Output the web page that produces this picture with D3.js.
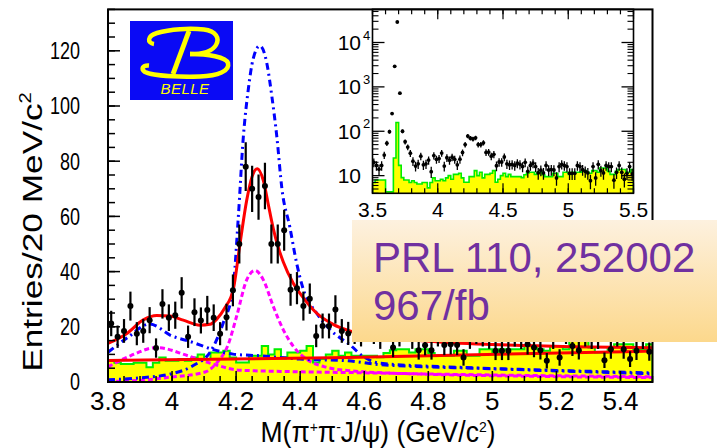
<!DOCTYPE html>
<html><head><meta charset="utf-8">
<script src="https://cdn.jsdelivr.net/npm/d3@7"></script>
<style>
body{margin:0;background:#fff}
svg{display:block}
text{font-family:"Liberation Sans",Arial,Helvetica,sans-serif}
</style>
</head><body>
<svg id="c" width="717" height="448"></svg>
<script>
// ---------------- DATA ----------------
const binStart = 3.8, binWidth = 0.02;
// Entries per 20 MeV bin, 3.80 - 5.50 GeV
const counts = [21.2,16.4,18.5,27.5,17.5,18.5,22.4,12.3,28.3,23.3,
  24.2,32.3,16.4,25.3,22.3,26.1,23.3,17.5,23.5,33.2,
  50,78,70,67,71,50,50,55,33.4,34,
  27.5,30.2,16.7,20.3,20.3,26.3,18.5,17.6,18,17,
  19,18,16,20,12.5,17,19,16,11.5,13.3,
  11.5,17,13.4,13.7,13.4,8.9,16,18,17,16,
  11.3,11.3,11.3,17,16,13.7,12.5,11.5,7.7,16,
  8.9,18,13,11.5,17,16,16,7.9,11.9,17,
  11.9,8.3,11.3,16,11];
// J/psi sideband histogram (yellow)
const sideband = [7.7,7,6.5,6.5,7,7,5.3,7,8.9,7.7,
  7.7,8.3,7.7,8.9,10,8.3,10.7,10.7,11.3,8.9,
  7.1,7.1,9.5,9.5,13,10,11.9,8.9,10.7,10.7,
  11.3,13,7.1,8.3,10,11.3,9.5,10.7,9.5,9.5,
  9.5,9.5,9,10.5,11.5,11.9,11.9,10.7,11.9,11.9,
  10.5,9.5,9.5,9.5,11.3,11.3,9.5,9.5,11.9,11.9,
  10.7,11.9,11.9,11.9,11.9,13,13,11.9,11.3,13,
  13,11.9,14.9,14.9,14.9,12.5,10.7,10.7,12.5,13.7,
  13.7,13.7,11.9,11.9,13.7];
// inset: extra bins 3.50 - 3.80 GeV (same 20 MeV binning)
const insetStart = 3.5;
const insetLowCounts = [20,17,14,17,29,54,98,250,2900,29000,720,100,58,44,32];
const insetLowSideband = [7,8,8,8,8,4.3,4.3,4.3,25,157,17,9,8,8,7];

// fit curves [mass, entries]
const fitTotal = [[3.80,14.0],[3.858,17.5],[3.91,22.5],[3.952,24.1],[3.994,23.9],[4.035,22.4],
  [4.087,20.6],[4.118,20.9],[4.139,22.7],[4.165,26.9],[4.191,33.5],[4.212,50],[4.233,65.8],
  [4.25,74.5],[4.266,77.3],[4.285,73],[4.30,64.6],[4.316,55.6],[4.331,49],[4.347,43.6],
  [4.378,35.9],[4.41,30.5],[4.451,25],[4.503,20.9],[4.555,18.5],[4.65,16.5],[4.8,14.8],
  [5.0,13.6],[5.25,12.8],[5.5,12.4]];
const fitBkg = [[3.8,7.8],[4.55,8.9],[5.5,11.2]];
const sol2Y4260 = [[3.80,0.8],[3.90,1.5],[4.00,3],[4.065,5.9],[4.12,11],[4.16,21.5],[4.19,33.5],
  [4.207,60],[4.222,88],[4.238,106],[4.253,117],[4.274,121.8],[4.295,116],[4.311,104],
  [4.327,89],[4.343,70],[4.368,56],[4.389,43],[4.41,33.5],[4.451,25],[4.493,19],[4.555,13.5],
  [4.60,9],[4.65,6.8],[4.9,5.3],[5.2,4.2],[5.5,3.3]];
const sol2Y4008 = [[3.80,10.8],[3.86,16],[3.93,21],[3.999,16.7],[4.061,14.5],[4.124,11.9],
  [4.19,10.1],[4.274,9.5],[4.399,8.3],[4.545,7.7],[4.65,6.3],[5.0,4.8],[5.5,3.0]];
const sol1Y4008 = [[3.80,5.5],[3.87,9.5],[3.952,12.5],[4.05,9.5],[4.134,6.3],[4.21,4.3],
  [4.40,3.7],[4.565,3.4],[4.8,2.9],[5.1,2.4],[5.5,1.9]];
const sol1Y4260 = [[3.80,0.2],[3.90,0.6],[3.983,1.6],[4.103,3.6],[4.14,7],[4.175,13.5],
  [4.202,24],[4.233,37],[4.259,40.4],[4.285,37],[4.316,27.4],[4.347,19],[4.378,13],[4.42,8.3],
  [4.483,5.3],[4.565,4],[4.8,2.8],[5.1,2.1],[5.5,1.6]];

const xTickLabels = ["3.8","4","4.2","4.4","4.6","4.8","5","5.2","5.4"];
const yTickLabels = ["0","20","40","60","80","100","120"];
const insetXTickLabels = ["3.5","4","4.5","5","5.5"];
const insetYExponents = [1,2,3,4];

// ---------------- SETUP ----------------
const svg = d3.select("#c");
const defs = svg.append("defs");
const xM = d3.scaleLinear().domain([3.8,5.5]).range([108,652.5]);
const yM = d3.scaleLinear().domain([0,135]).range([382,9.4]);
const xI = d3.scaleLinear().domain([3.5,5.5]).range([372.5,633.5]);
const yI = d3.scaleLog().domain([4,56000]).range([193.3,9.3]);

defs.append("clipPath").attr("id","clipM").append("rect")
  .attr("x",xM(3.8)).attr("y",yM(135)).attr("width",xM(5.5)-xM(3.8)).attr("height",yM(0)-yM(135));
defs.append("clipPath").attr("id","clipI").append("rect")
  .attr("x",xI(3.5)).attr("y",yI(56000)).attr("width",xI(5.5)-xI(3.5)).attr("height",yI(4)-yI(56000));

const grad = defs.append("linearGradient").attr("id","boxg").attr("x1",0).attr("y1",0).attr("x2",0).attr("y2",1);
grad.append("stop").attr("offset","0%").attr("stop-color","#fdf1df");
grad.append("stop").attr("offset","100%").attr("stop-color","#fcd88c");

function bins(arr, start){ return arr.map((v,i)=>({lo:start+i*binWidth, hi:start+(i+1)*binWidth, c:start+(i+0.5)*binWidth, v})); }
const mainBins = bins(counts, binStart);
const mainSB = bins(sideband, binStart);
const insetBins = bins(insetLowCounts.concat(counts), insetStart);
const insetSB = bins(insetLowSideband.concat(sideband), insetStart);

function histPts(b){ return b.flatMap(d=>[[d.lo,d.v],[d.hi,d.v]]); }

// ---------------- MAIN PLOT ----------------
const gM = svg.append("g").attr("clip-path","url(#clipM)");
const sbPts = histPts(mainSB);
gM.append("path").datum(sbPts)
  .attr("d", d3.area().x(d=>xM(d[0])).y0(yM(0)).y1(d=>yM(d[1])))
  .attr("fill","#ffff00");
gM.append("path").datum([[binStart,0]].concat(sbPts,[[sbPts[sbPts.length-1][0],0]]))
  .attr("d", d3.line().x(d=>xM(d[0])).y(d=>yM(d[1])))
  .attr("fill","none").attr("stroke","#00ee00").attr("stroke-width",2);

const curve = d3.line().x(d=>xM(d[0])).y(d=>yM(d[1])).curve(d3.curveMonotoneX);
function drawCurve(data, color, dash, w){
  gM.append("path").datum(data).attr("d",curve).attr("fill","none")
    .attr("stroke",color).attr("stroke-width",w).attr("stroke-dasharray",dash);
}
drawCurve(sol1Y4008,"#ff00ff","5,3",3);
drawCurve(sol1Y4260,"#ff00ff","5,3",3);
drawCurve(sol2Y4008,"#0000ff","7,4,2,4",3);
drawCurve(sol2Y4260,"#0000ff","7,4,2,4",3);
drawCurve(fitBkg,"#ff0000",null,3);
drawCurve(fitTotal,"#ff0000",null,3);

// data points
const pts = gM.append("g");
pts.selectAll("line").data(mainBins).join("line")
  .attr("x1",d=>xM(d.c)).attr("x2",d=>xM(d.c))
  .attr("y1",d=>yM(d.v-Math.sqrt(d.v))).attr("y2",d=>yM(d.v+Math.sqrt(d.v)))
  .attr("stroke","#000").attr("stroke-width",2.2);
pts.selectAll("circle").data(mainBins).join("circle")
  .attr("cx",d=>xM(d.c)).attr("cy",d=>yM(d.v)).attr("r",3).attr("fill","#000");

// ---------------- BELLE LOGO ----------------
const logo = svg.append("g").attr("transform","translate(130,21)");
logo.append("rect").attr("width",103).attr("height",79).attr("fill","#0a0af5");
const ly = "#ffff00";
logo.append("path").attr("d","M 24,23 C 17,22 17,15 27,12 C 40,8 60,7 74,8.5 C 86,10 90,17 86,24 C 82,31 70,33 60,33")
  .attr("fill","none").attr("stroke",ly).attr("stroke-width",4.5);
logo.append("path").attr("d","M 60,33 C 78,33 96,36 98,42 C 100,50 88,55 70,55.5 C 50,56 24,55 15,51 C 10,48 13,44 19,44.5")
  .attr("fill","none").attr("stroke",ly).attr("stroke-width",4.5);
logo.append("path").attr("d","M 59,10 L 43,53").attr("fill","none").attr("stroke",ly).attr("stroke-width",5);
logo.append("text").attr("x",55).attr("y",73).attr("text-anchor","middle")
  .attr("font-size",15).attr("font-style","italic").attr("fill",ly).attr("letter-spacing",0.5).text("BELLE");

// ---------------- MAIN AXES ----------------
const ax = svg.append("g");
const xMinor = d3.range(0,35).map(i=>3.8+i*0.05);
ax.selectAll("line.xmin").data(xMinor).join("line")
  .attr("x1",d=>xM(d)).attr("x2",d=>xM(d)).attr("y1",yM(0)).attr("y2",yM(0)-6)
  .attr("stroke","#000").attr("stroke-width",1.5);
ax.selectAll("line.xmaj").data(xTickLabels).join("line")
  .attr("x1",d=>xM(+d)).attr("x2",d=>xM(+d)).attr("y1",yM(0)).attr("y2",yM(0)-11)
  .attr("stroke","#000").attr("stroke-width",1.5);
ax.selectAll("text.xl").data(xTickLabels).join("text")
  .attr("x",d=>xM(+d)).attr("y",410).attr("text-anchor","middle").attr("font-size",26).text(d=>d);
const yMinor = d3.range(0,28).map(i=>i*5);
ax.selectAll("line.ymin").data(yMinor).join("line")
  .attr("x1",xM(3.8)).attr("x2",xM(3.8)+7).attr("y1",d=>yM(d)).attr("y2",d=>yM(d))
  .attr("stroke","#000").attr("stroke-width",1.5);
ax.selectAll("line.ymaj").data(yTickLabels).join("line")
  .attr("x1",xM(3.8)).attr("x2",xM(3.8)+12).attr("y1",d=>yM(+d)).attr("y2",d=>yM(+d))
  .attr("stroke","#000").attr("stroke-width",1.5);
ax.selectAll("text.yl").data(yTickLabels).join("text")
  .attr("transform",d=>`translate(80,${yM(+d)+8.4}) scale(1,1.3)`)
  .attr("text-anchor","end").attr("font-size",18).text(d=>d);

// axis titles
const xt = svg.append("text").attr("transform","translate(378,442) scale(1,1.1)")
  .attr("text-anchor","middle").attr("font-size",26.5);
xt.append("tspan").text("M(π");
xt.append("tspan").attr("dy",-9).attr("font-size",14).text("+");
xt.append("tspan").attr("dy",9).text("π");
xt.append("tspan").attr("dy",-9).attr("font-size",14).text("-");
xt.append("tspan").attr("dy",9).text("J/ψ) (GeV/c");
xt.append("tspan").attr("dy",-9).attr("font-size",14).text("2");
xt.append("tspan").attr("dy",9).text(")");

const yt = svg.append("text").attr("transform","translate(42,232) rotate(-90) scale(1.26,1)")
  .attr("text-anchor","middle").attr("font-size",28);
yt.append("tspan").text("Entries/20 MeV/c");
yt.append("tspan").attr("dy",-11).attr("font-size",16).text("2");

// ---------------- INSET ----------------
svg.append("rect").attr("x",336).attr("y",10).attr("width",316).attr("height",211).attr("fill","#fff");
const gI = svg.append("g").attr("clip-path","url(#clipI)");
const isbPts = histPts(insetSB);
gI.append("path").datum(isbPts)
  .attr("d", d3.area().x(d=>xI(d[0])).y0(yI(4)).y1(d=>yI(d[1])))
  .attr("fill","#ffff00");
gI.append("path").datum([[insetStart,4]].concat(isbPts,[[isbPts[isbPts.length-1][0],4]]))
  .attr("d", d3.line().x(d=>xI(d[0])).y(d=>yI(Math.max(4,d[1]))))
  .attr("fill","none").attr("stroke","#00ee00").attr("stroke-width",1.6);
gI.selectAll("line").data(insetBins).join("line")
  .attr("x1",d=>xI(d.c)).attr("x2",d=>xI(d.c))
  .attr("y1",d=>yI(Math.max(4,d.v-Math.sqrt(d.v)))).attr("y2",d=>yI(d.v+Math.sqrt(d.v)))
  .attr("stroke","#000").attr("stroke-width",1.3);
gI.selectAll("circle").data(insetBins).join("circle")
  .attr("cx",d=>xI(d.c)).attr("cy",d=>yI(d.v)).attr("r",1.9).attr("fill","#000");

const ai = svg.append("g");
const ixMinor = d3.range(0,21).map(i=>3.5+i*0.1);
[yI(4), yI(56000)].forEach((yy,k)=>{
  const s = k===0 ? -1 : 1;
  ai.selectAll(null).data(ixMinor).join("line")
    .attr("x1",d=>xI(d)).attr("x2",d=>xI(d)).attr("y1",yy).attr("y2",yy+s*5)
    .attr("stroke","#000").attr("stroke-width",1.2);
  ai.selectAll(null).data(insetXTickLabels).join("line")
    .attr("x1",d=>xI(+d)).attr("x2",d=>xI(+d)).attr("y1",yy).attr("y2",yy+s*10)
    .attr("stroke","#000").attr("stroke-width",1.2);
});
const iyMinor = [];
[1,10,100,1000,10000].forEach(dec=>{ for(let m=2;m<=9;m++){ const v=m*dec; if(v>=4 && v<=56000) iyMinor.push(v);} });
[xI(3.5), xI(5.5)].forEach((xx,k)=>{
  const s = k===0 ? 1 : -1;
  ai.selectAll(null).data(iyMinor).join("line")
    .attr("x1",xx).attr("x2",xx+s*6).attr("y1",d=>yI(d)).attr("y2",d=>yI(d))
    .attr("stroke","#000").attr("stroke-width",1.1);
  ai.selectAll(null).data(insetYExponents).join("line")
    .attr("x1",xx).attr("x2",xx+s*12).attr("y1",d=>yI(Math.pow(10,d))).attr("y2",d=>yI(Math.pow(10,d)))
    .attr("stroke","#000").attr("stroke-width",1.3);
});
ai.append("rect").attr("x",xI(3.5)).attr("y",yI(56000)).attr("width",xI(5.5)-xI(3.5)).attr("height",yI(4)-yI(56000))
  .attr("fill","none").attr("stroke","#000").attr("stroke-width",1.6);
ai.selectAll("text.ixl").data(insetXTickLabels).join("text")
  .attr("x",d=>xI(+d)).attr("y",217).attr("text-anchor","middle").attr("font-size",21).text(d=>d);
insetYExponents.forEach(e=>{
  const yy = yI(Math.pow(10,e));
  ai.append("text").attr("x",361).attr("y",yy+7.5).attr("text-anchor","end").attr("font-size",21).text("10");
  if(e>1) ai.append("text").attr("x",363).attr("y",yy-3).attr("font-size",13).text(String(e));
});

// main frame on top
svg.append("rect").attr("x",xM(3.8)).attr("y",yM(135)).attr("width",xM(5.5)-xM(3.8)).attr("height",yM(0)-yM(135))
  .attr("fill","none").attr("stroke","#000").attr("stroke-width",2);

// ---------------- NOTE BOX ----------------
svg.append("rect").attr("x",352).attr("y",220).attr("width",370).attr("height",122).attr("fill","url(#boxg)");
svg.append("text").attr("x",373).attr("y",272).attr("font-size",42).attr("fill","#7030a0").text("PRL 110, 252002");
svg.append("text").attr("x",373).attr("y",320).attr("font-size",42).attr("fill","#7030a0").text("967/fb");
</script>
</body></html>
